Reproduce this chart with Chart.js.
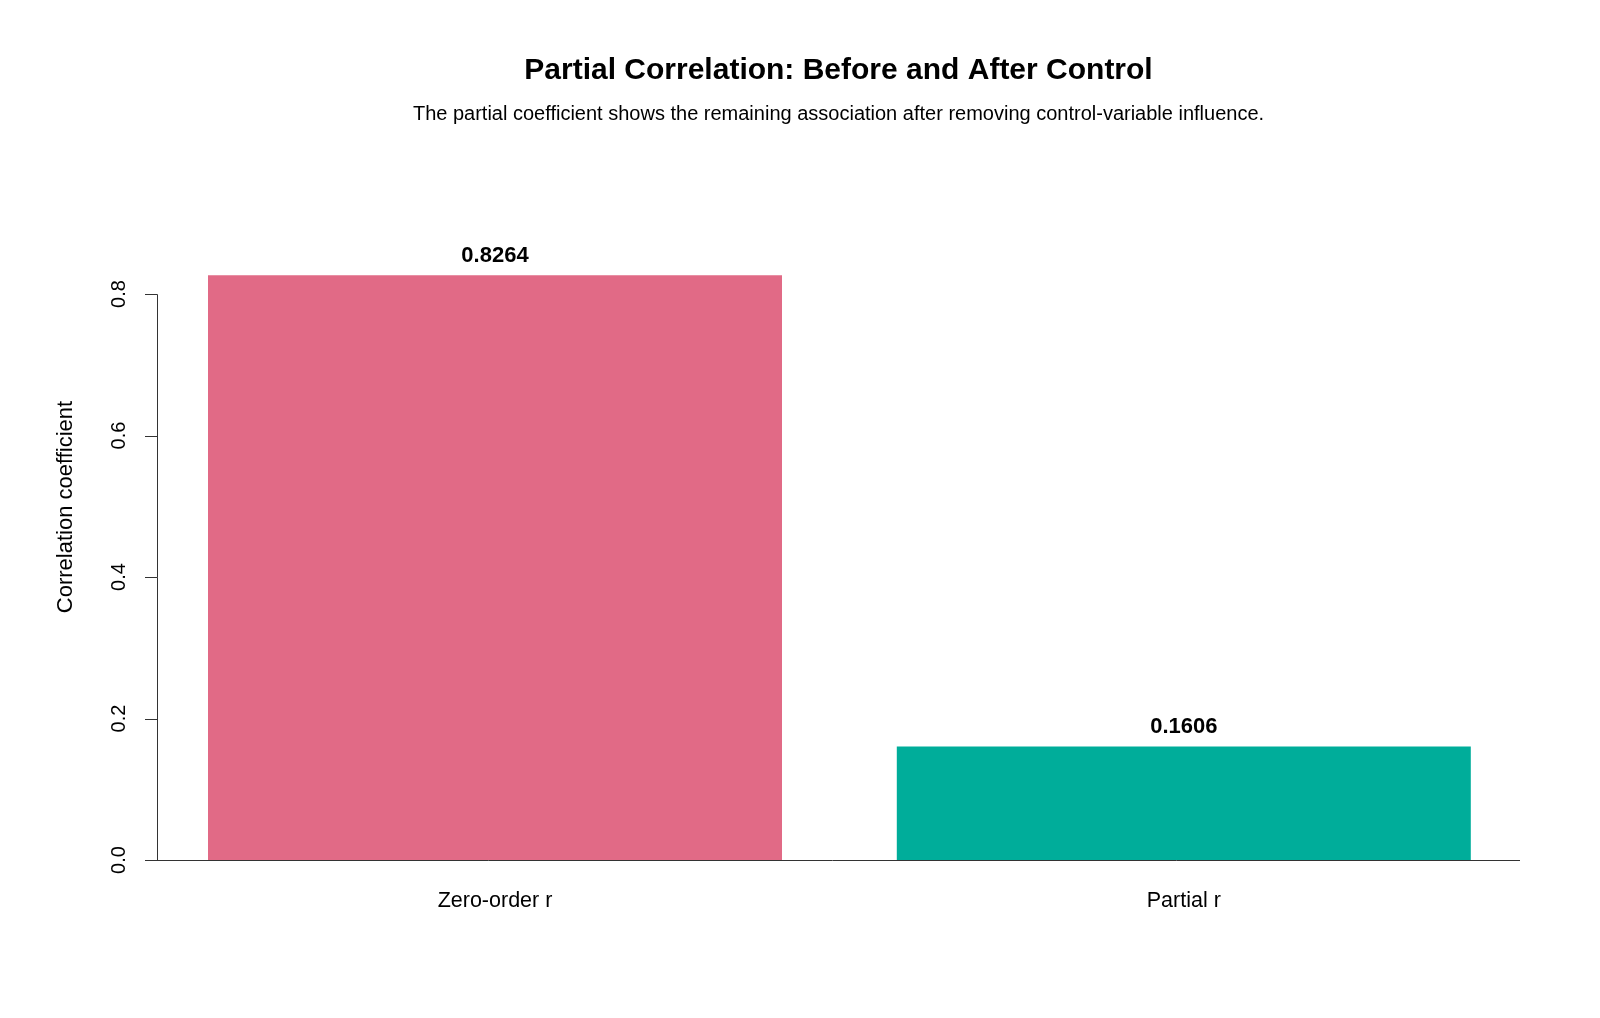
<!DOCTYPE html>
<html>
<head>
<meta charset="utf-8">
<script src="https://cdn.jsdelivr.net/npm/chart.js@4.4.1/dist/chart.umd.min.js"></script>
<style>
  html, body { margin: 0; padding: 0; background: #fff; }
  #wrap { width: 1600px; height: 1018px; }
</style>
</head>
<body>
<div id="wrap"><canvas id="chart" width="1600" height="1018"></canvas></div>
<script>
const categories = ["Zero-order r", "Partial r"];
const values = [0.8264, 0.1606];
const barColors = ["#E16A86", "#00AD9A"];
const yTicks = [0, 0.2, 0.4, 0.6, 0.8];
const titleText = "Partial Correlation: Before and After Control";
const subtitleText = "The partial coefficient shows the remaining association after removing control-variable influence.";
const yTitle = "Correlation coefficient";

const FONT = "'Liberation Sans', Arial, sans-serif";

// R-style axes, labels and titles drawn on top of the chart area
const baseAxes = {
    id: "baseAxes",
    afterDraw(chart) {
        const ctx = chart.ctx;
        const x = chart.scales.x;
        const y = chart.scales.y;
        const area = chart.chartArea;
        const axisX = 157;
        const plotLeft = 157, plotRight = 1520;
        const midX = (plotLeft + plotRight) / 2;

        ctx.save();
        ctx.strokeStyle = "#333";
        ctx.lineWidth = 1;

        // y axis line and ticks
        const y0 = y.getPixelForValue(yTicks[0]);
        const yN = y.getPixelForValue(yTicks[yTicks.length - 1]);
        ctx.beginPath();
        ctx.moveTo(axisX + 0.5, Math.round(y0) + 0.5);
        ctx.lineTo(axisX + 0.5, Math.round(yN) + 0.5);
        yTicks.forEach(t => {
            const py = Math.round(y.getPixelForValue(t)) + 0.5;
            ctx.moveTo(axisX - 12, py);
            ctx.lineTo(axisX + 0.5, py);
        });
        // baseline
        ctx.moveTo(145, Math.round(y0) + 0.5);
        ctx.lineTo(plotRight, Math.round(y0) + 0.5);
        ctx.stroke();

        // y tick labels (rotated, R style)
        ctx.fillStyle = "#000";
        ctx.font = `20px ${FONT}`;
        ctx.textAlign = "center";
        ctx.textBaseline = "middle";
        yTicks.forEach(t => {
            ctx.save();
            ctx.translate(119, y.getPixelForValue(t));
            ctx.rotate(-Math.PI / 2);
            ctx.fillText(t.toFixed(1), 0, 0);
            ctx.restore();
        });

        // y axis title
        ctx.font = `22px ${FONT}`;
        ctx.save();
        ctx.translate(66, 507);
        ctx.rotate(-Math.PI / 2);
        ctx.fillText(yTitle, 0, 0);
        ctx.restore();

        // category labels
        ctx.font = `21.5px ${FONT}`;
        categories.forEach((c, i) => {
            ctx.fillText(c, x.getPixelForValue(i), 901);
        });

        // value labels above bars
        ctx.font = `bold 22px ${FONT}`;
        const meta = chart.getDatasetMeta(0);
        meta.data.forEach((bar, i) => {
            ctx.fillText(values[i].toFixed(4), bar.x, bar.y - 19);
        });

        // title and subtitle
        ctx.font = `bold 30px ${FONT}`;
        ctx.fillText(titleText, midX, 71);
        ctx.font = `20px ${FONT}`;
        ctx.fillText(subtitleText, midX, 114);
        ctx.restore();
    }
};

new Chart(document.getElementById("chart"), {
    type: "bar",
    data: {
        labels: categories,
        datasets: [{
            data: values,
            backgroundColor: barColors,
            borderWidth: 0,
            barPercentage: 1 / 1.2,
            categoryPercentage: 1
        }]
    },
    options: {
        responsive: false,
        animation: false,
        layout: { padding: { left: 150.6, right: 1600 - 1528.2, top: 159.6, bottom: 1018 - 860 } },
        plugins: {
            legend: { display: false },
            title: { display: false },
            tooltip: { enabled: false }
        },
        scales: {
            x: { display: false, offset: true },
            y: { display: false, min: 0, max: 0.99 }
        }
    },
    plugins: [baseAxes]
});
</script>
</body>
</html>
